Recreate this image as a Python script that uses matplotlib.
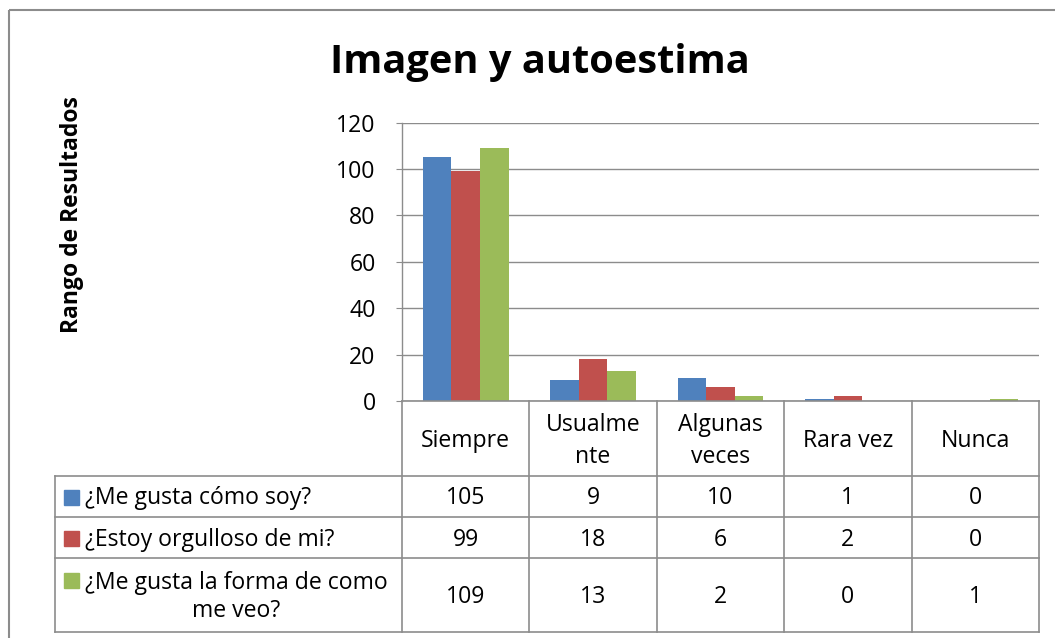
import matplotlib
matplotlib.use("Agg")
import matplotlib.pyplot as plt
from matplotlib.patches import Rectangle

categories = ["Siempre", "Usualme\nnte", "Algunas\nveces", "Rara vez", "Nunca"]
series_names = ["¿Me gusta cómo soy?", "¿Estoy orgulloso de mi?",
                "¿Me gusta la forma de como\nme veo?"]
s1 = [105, 9, 10, 1, 0]
s2 = [99, 18, 6, 2, 0]
s3 = [109, 13, 2, 0, 1]
series = [s1, s2, s3]
colors = ["#4F81BD", "#C0504D", "#9BBB59"]
yticks = [0, 20, 40, 60, 80, 100, 120]

FONT = "Open Sans"
plt.rcParams["font.family"] = [FONT, "DejaVu Sans"]

W, H = 1055, 638
fig = plt.figure(figsize=(W / 100, H / 100), dpi=100)

# pixel layout
L, R = 402, 1039
T, B = 122.7, 401
ax = fig.add_axes([L / W, 1 - B / H, (R - L) / W, (B - T) / H])

n = len(categories)
bw = 0.224
for k, (vals, c) in enumerate(zip(series, colors)):
    xs = [i + (k - 1) * bw for i in range(n)]
    ax.bar(xs, vals, width=bw, color=c, zorder=3)

fs = 16.6
ax.set_xlim(-0.5, n - 0.5)
ax.set_ylim(0, 120)
ax.set_yticks(yticks)
ax.set_xticks([])
grid_c = "#8c8c8c"
ax.yaxis.grid(True, color=grid_c, lw=1.0, zorder=0)
for s in ["top", "right", "bottom"]:
    ax.spines[s].set_visible(False)
ax.spines["left"].set_color(grid_c)
ax.spines["left"].set_linewidth(1.0)
ax.tick_params(axis="y", length=4, color=grid_c, labelsize=fs, pad=15)
ax.set_facecolor("none")

# overlay axes in pixel coordinates for frame, title and table
ov = fig.add_axes([0, 0, 1, 1], zorder=-1)
ov.set_xlim(0, W)
ov.set_ylim(H, 0)
ov.axis("off")

ov.add_patch(Rectangle((9, 10), W + 20, H + 20, fill=False, ec="#8c8c8c", lw=1.5))
ov.text(540, 63, "Imagen y autoestima", ha="center", va="center",
        fontsize=28.6, fontweight="bold")
ov.text(72, 215, "Rango de Resultados", ha="center", va="center",
        rotation=90, fontsize=16.5, fontweight="bold")

# table
ov2 = fig.add_axes([0, 0, 1, 1], zorder=5)
ov2.set_xlim(0, W)
ov2.set_ylim(H, 0)
ov2.axis("off")
tl = dict(color=grid_c, lw=1.2)
cw = (R - L) / n
rows = [B, 476, 517, 558, 632]
TL = 54.5
# horizontal lines
ov2.plot([L, R], [rows[0], rows[0]], **tl)
for y in rows[1:]:
    ov2.plot([TL, R], [y, y], **tl)
# vertical lines
ov2.plot([TL, TL], [rows[1], rows[-1]], **tl)
for i in range(n + 1):
    ov2.plot([L + i * cw, L + i * cw], [rows[0], rows[-1]], **tl)

for i, cat in enumerate(categories):
    ov2.text(L + (i + 0.5) * cw, (rows[0] + rows[1]) / 2 + 2.5, cat,
             ha="center", va="center", fontsize=fs, linespacing=1.4)

for r, (name, vals, c) in enumerate(zip(series_names, series, colors)):
    ymid = (rows[r + 1] + rows[r + 2]) / 2 + 2
    if "\n" in name:
        ov2.add_patch(Rectangle((64, 573), 15, 15, color=c))
        ov2.text(85, ymid, name, ha="left", va="center", fontsize=fs,
                 linespacing=1.2, multialignment="center")
    else:
        ov2.add_patch(Rectangle((64, ymid - 8.5), 15, 15, color=c))
        ov2.text(85, ymid, name, ha="left", va="center", fontsize=fs)
    for i, v in enumerate(vals):
        ov2.text(L + (i + 0.5) * cw, ymid, str(v), ha="center", va="center",
                 fontsize=fs)

fig.savefig("out.png", dpi=100)
